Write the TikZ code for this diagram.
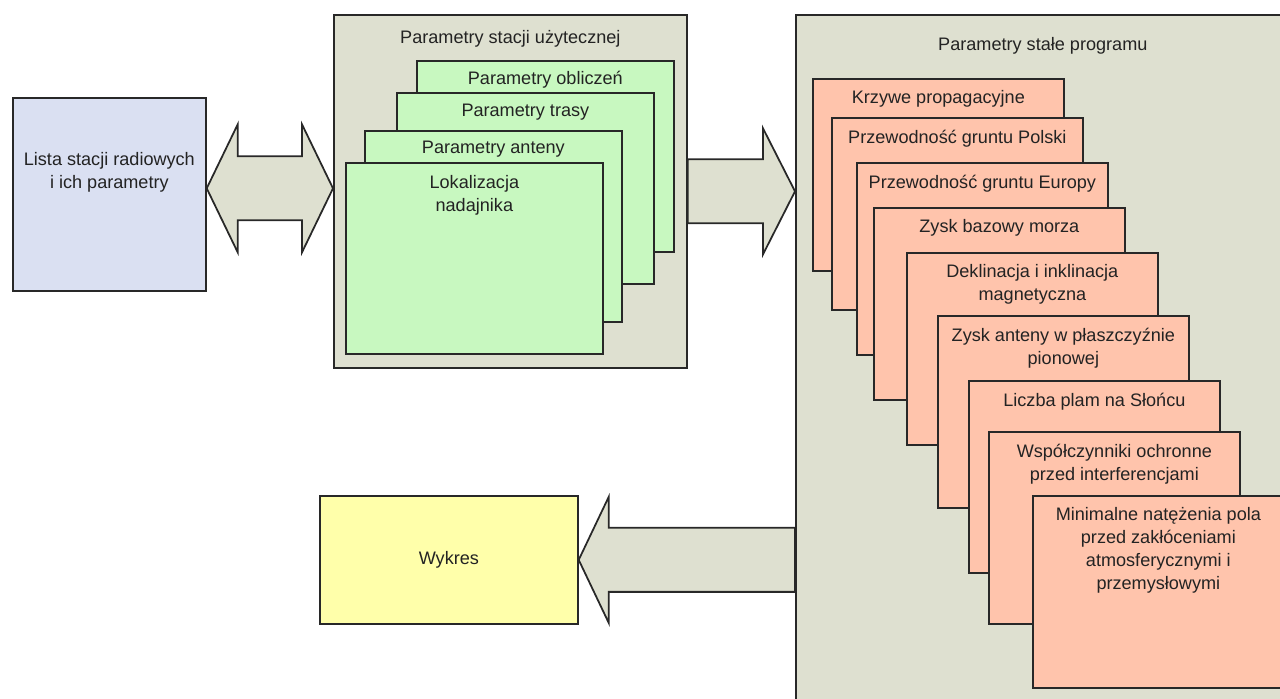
\documentclass[tikz,border=0pt]{standalone}
\usepackage{fontspec}
\setmainfont{Liberation Sans}
\usetikzlibrary{positioning, calc}

\definecolor{listablue}{RGB}{218,224,242}
\definecolor{panelgrey}{RGB}{222,224,208}
\definecolor{paramgreen}{RGB}{200,248,192}
\definecolor{constsalmon}{RGB}{255,196,172}
\definecolor{plotyellow}{RGB}{255,255,170}
\definecolor{edgegrey}{RGB}{40,40,40}
\definecolor{textgrey}{RGB}{35,35,35}

\tikzset{
  box/.style={draw=edgegrey, line width=1pt, anchor=north west, inner sep=0pt},
  panel/.style={box, fill=panelgrey},
  greenbox/.style={box, fill=paramgreen, minimum width=5.14cm, minimum height=3.82cm},
  salmonbox/.style={box, fill=constsalmon, minimum width=5.02cm, minimum height=3.84cm},
  txt/.style={inner sep=0pt, align=center, text=textgrey, font=\fontsize{10.3}{13}\selectfont},
  bigarrow/.style={draw=edgegrey, line width=1pt, fill=panelgrey, line join=miter}
}

\begin{document}
\begin{tikzpicture}[x=0.02cm, y=-0.02cm]
    \useasboundingbox (0,0) rectangle (1280,699);
    \clip (0,0) rectangle (1280,699);

    % Station list
    \node[box, fill=listablue, minimum width=3.86cm, minimum height=3.86cm] (lista) at (12,97) {};
    \node[txt, below=1.1cm of lista.north] (listaT) {Lista stacji radiowych\\i ich parametry};

    % Useful station parameters
    \node[panel, minimum width=7.06cm, minimum height=7.06cm] (stacja) at (333,14) {};
    \node[txt, below=0.33cm of stacja.north] (stacjaT) {Parametry stacji użytecznej};

    \node[greenbox] (obl) at (416,60) {};
    \node[txt, below=0.22cm of obl.north] (oblT) {Parametry obliczeń};
    \node[greenbox] (trasa) at (396,92) {};
    \node[txt, below=0.24cm of trasa.north] (trasaT) {Parametry trasy};
    \node[greenbox] (antena) at (364,130) {};
    \node[txt, below=0.22cm of antena.north] (antenaT) {Parametry anteny};
    \node[greenbox] (lokal) at (345,162) {};
    \node[txt, below=0.26cm of lokal.north] (lokalT) {Lokalizacja\\nadajnika};

    % Fixed program parameters
    \node[panel, minimum width=9.88cm, minimum height=14cm] (stale) at (795,14) {};
    \node[txt, below=0.46cm of stale.north] (staleT) {Parametry stałe programu};

    \foreach \n/\px/\py/\t in {
        krzywe/812/78/{Krzywe propagacyjne},
        polska/831/117/{Przewodność gruntu Polski},
        europa/856/162/{Przewodność gruntu Europy},
        morze/873/207/{Zysk bazowy morza},
        deklin/906/252/{Deklinacja i inklinacja\\magnetyczna},
        zysk/937/315/{Zysk anteny w płaszczyźnie\\pionowej},
        plamy/968/380/{Liczba plam na Słońcu},
        ochrona/988/431/{Współczynniki ochronne\\przed interferencjami},
        minimum/1032/495/{Minimalne natężenia pola\\przed zakłóceniami\\atmosferycznymi i\\przemysłowymi}} {
        \node[salmonbox] (\n) at (\px,\py) {};
        \node[txt, below=0.25cm of \n.north] (\n-t) {\t};
    }

    % Plot
    \node[box, txt, fill=plotyellow, minimum width=5.16cm, minimum height=2.56cm] (wykres) at (319,495) {Wykres};

    % Block arrows
    \coordinate (dblL) at ($(lista.east)+(0,-6)$);
    \coordinate (dblR) at (stacja.west |- dblL);
    \draw[bigarrow] (dblL) -- ++(31,-64) -- ++(0,32)
        -- ($(dblR)+(-31,-32)$) -- ++(0,-32)
        -- (dblR) -- ++(-31,64) -- ++(0,-32)
        -- ($(dblL)+(31,32)$) -- ++(0,32) -- cycle;

    \draw[bigarrow] ($(stacja.east)+(0,-32)$) -- ($(stale.west |- stacja.east)+(-32,-32)$)
        -- ++(0,-31) -- (stale.west |- stacja.east) -- ++(-32,63) -- ++(0,-31)
        -- ($(stacja.east)+(0,32)$) -- cycle;

    \draw[bigarrow] (wykres.east) -- ++(30,-63) -- ++(0,31)
        -- ($(stale.west |- wykres.east)+(0,-32)$) -- ++(0,64)
        -- ($(wykres.east)+(30,32)$) -- ++(0,31) -- cycle;

\end{tikzpicture}
\end{document}
